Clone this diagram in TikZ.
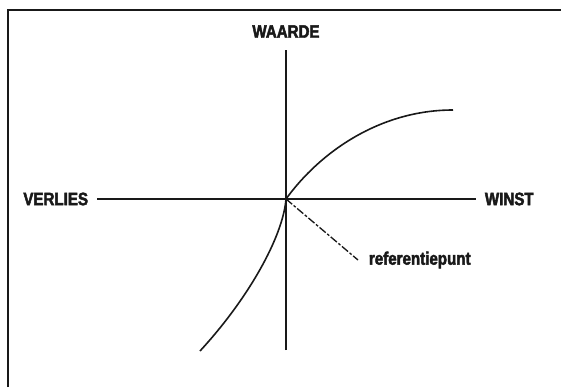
\documentclass[tikz,border=0pt]{standalone}
\usepackage{fontspec}
\newfontfamily\etiketfont[FakeStretch=0.84, FakeBold=2.5]{Liberation Sans Bold}
\usetikzlibrary{positioning}
\colorlet{colLijn}{black!90}
\tikzset{
  kader/.style={draw=colLijn, line width=1.6pt},
  asLijn/.style={draw=colLijn, line width=1.3pt},
  curveLijn/.style={draw=colLijn, line width=1.2pt},
  stippelLijn/.style={draw=colLijn, line width=1pt,
    dash pattern=on 6pt off 1.5pt on 2pt off 1.5pt},
  etiket/.style={font=\etiketfont\fontsize{13.5}{15}\selectfont,
    text=colLijn, inner sep=2pt},
}

\begin{document}
\begin{tikzpicture}[x=0.75pt, y=0.75pt]
    \useasboundingbox (0,0) rectangle (561,387);
    % Kader
    \draw[kader] (8,0) -- (8,377) -- (565,377);

    % Assen
    \coordinate (O) at (286,188);
    \coordinate (asBoven) at (286,337);
    \coordinate (asOnder) at (286,37);
    \coordinate (asLinks) at (97,188);
    \coordinate (asRechts) at (476,188);
    \draw[asLijn] (asOnder) -- (asBoven);
    \draw[asLijn] (asLinks) -- (asRechts);

    \node[etiket, above=7pt of asBoven] (waarde) {WAARDE};
    \node[etiket, left=4.5pt of asLinks] (verlies) {VERLIES};
    \node[etiket, right=4.5pt of asRechts] (winst) {WINST};

    % Waardefunctie
    \coordinate (curveBegin) at (200,36);
    \coordinate (curveEind) at (453,277);
    \draw[curveLijn] (curveBegin) .. controls (248,88) and (283,150) .. (O)
                     .. controls (320,235) and (380,277) .. (curveEind);

    % Referentiepunt
    \coordinate (refEind) at (358,127);
    \node[etiket, right=6pt of refEind] (refpunt) {referentiepunt};
    \draw[stippelLijn] (O) -- (refEind);
  \end{tikzpicture}
\end{document}
